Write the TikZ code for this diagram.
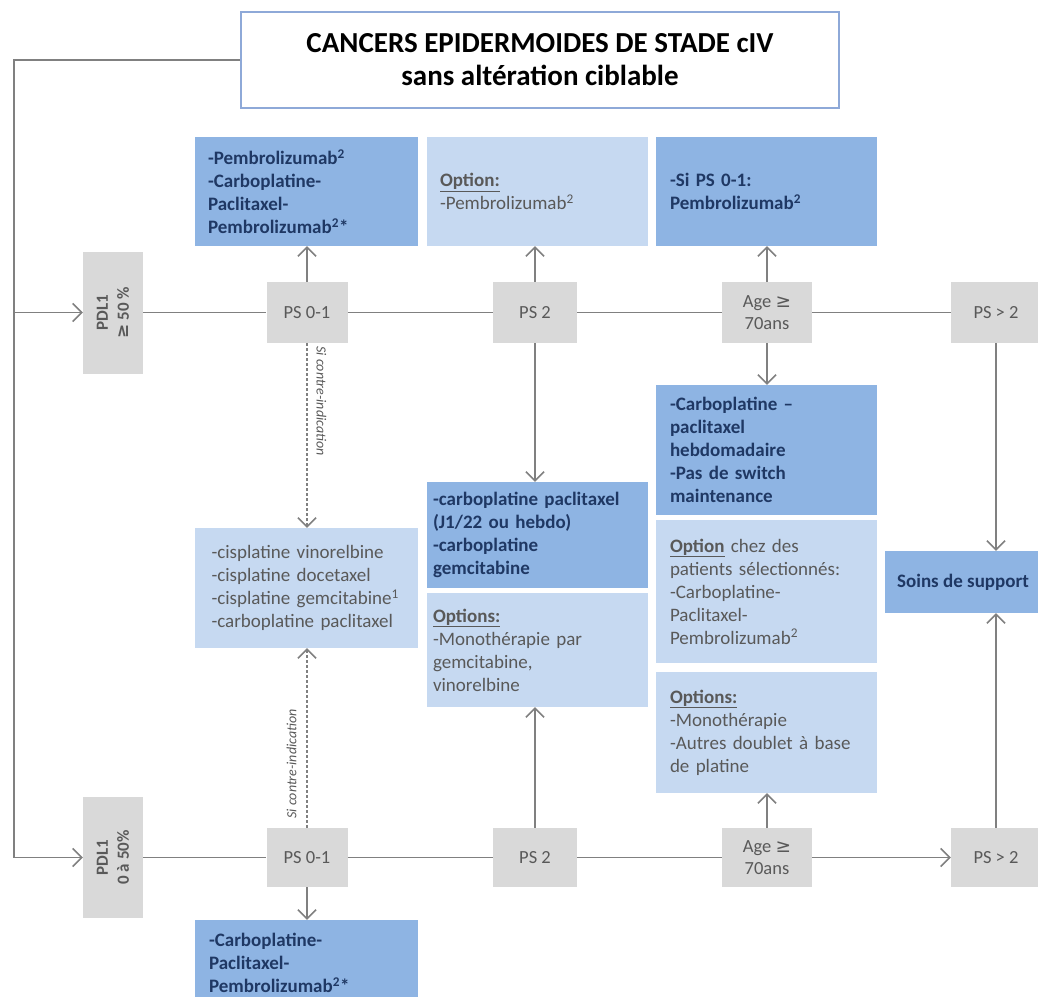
\documentclass[tikz,border=0pt]{standalone}
\usepackage{fontspec}
\setmainfont{Carlito}
\newfontfamily\symfont{DejaVu Sans}
\usetikzlibrary{arrows.meta}

\definecolor{boxdark}{HTML}{8EB4E3}
\definecolor{boxpale}{HTML}{C6D9F1}
\definecolor{boxgrey}{HTML}{D9D9D9}
\definecolor{wire}{HTML}{808080}
\definecolor{navytext}{HTML}{1F3864}
\definecolor{greytext}{HTML}{595959}
\definecolor{titleframe}{HTML}{8EA9D8}

\newcommand{\opthead}[1]{\textbf{\underline{#1}}}
\newcommand{\geqsign}{{\symfont\char"2265}}

\tikzset{
  dkbox/.style={inner sep=0pt, fill=boxdark, text=navytext, align=left,
    font=\bfseries\fontsize{19}{23}\selectfont},
  plbox/.style={inner sep=0pt, fill=boxpale, text=greytext, align=left,
    font=\fontsize{19}{23}\selectfont},
  gybox/.style={inner sep=0pt, fill=boxgrey, text=greytext, align=center,
    font=\fontsize{18.5}{22}\selectfont},
  rottext/.style={rotate=90, align=center, text=greytext,
    font=\bfseries\fontsize{17}{21}\selectfont},
  ln/.style={draw=wire, line width=1.6pt},
  arr/.style={-{Straight Barb[length=9pt,width=18pt,line width=1.6pt]}},
  dsh/.style={draw=wire, line width=1.4pt, dash pattern=on 3pt off 2pt},
  sidenote/.style={text=greytext, font=\itshape\fontsize{14}{16}\selectfont}
}

\begin{document}
\begin{tikzpicture}[x=1pt,y=-1pt]
\useasboundingbox (0,0) rectangle (1038,996);

% heading
\node[draw=titleframe, line width=2pt, fill=white, minimum width=598pt,
      minimum height=96pt, align=center,
      font=\bfseries\fontsize{29}{33}\selectfont] (title) at (540,60)
  {CANCERS EPIDERMOIDES DE STADE cIV\\sans altération ciblable};

% PD-L1 strata
\node[fill=boxgrey, minimum width=60pt, minimum height=122pt, inner sep=0pt] (pdlA) at (113,312.5) {};
\node[rottext] (pdlAtxt) at (pdlA) {PDL1\\\geqsign{} 50 \%};
\node[fill=boxgrey, minimum width=60pt, minimum height=121pt, inner sep=0pt] (pdlB) at (113,857.5) {};
\node[rottext] (pdlBtxt) at (pdlB) {PDL1\\0 à 50\%};

% performance status / age, upper row
\node[gybox, minimum width=81pt, minimum height=61pt] (psA1) at (307,312.5) {PS 0-1};
\node[gybox, minimum width=84pt, minimum height=61pt] (psA2) at (535,312.5) {PS 2};
\node[gybox, minimum width=90pt, minimum height=61pt] (ageA) at (767,312.5) {Age \geqsign\\70ans};
\node[gybox, minimum width=90pt, minimum height=61pt] (psA3) at (996,312.5) {PS > 2};

% performance status / age, lower row
\node[gybox, minimum width=81pt, minimum height=59pt] (psB1) at (307,857.5) {PS 0-1};
\node[gybox, minimum width=84pt, minimum height=59pt] (psB2) at (535,857.5) {PS 2};
\node[gybox, minimum width=90pt, minimum height=59pt] (ageB) at (767,857.5) {Age \geqsign\\70ans};
\node[gybox, minimum width=90pt, minimum height=59pt] (psB3) at (996,857.5) {PS > 2};

% treatments, top
\node[dkbox, minimum width=223pt, minimum height=109pt, text width=197pt] (topA) at (306.5,191.5)
  {-Pembrolizumab\textsuperscript{2}\\-Carboplatine-\\Paclitaxel-\\Pembrolizumab\textsuperscript{2}*};
\node[plbox, minimum width=221pt, minimum height=109pt, text width=195pt] (topB) at (537.5,191.5)
  {\opthead{Option:}\\-Pembrolizumab\textsuperscript{2}};
\node[dkbox, minimum width=221pt, minimum height=109pt, text width=193pt] (topC) at (766.5,191.5)
  {-Si PS 0-1:\\Pembrolizumab\textsuperscript{2}};

% treatments, elderly column
\node[dkbox, minimum width=221pt, minimum height=130pt, text width=193pt] (eldA) at (766.5,450)
  {-Carboplatine –\\paclitaxel\\hebdomadaire\\-Pas de switch\\maintenance};
\node[plbox, minimum width=221pt, minimum height=143pt, text width=193pt] (eldB) at (766.5,591.5)
  {\opthead{Option} chez des\\patients sélectionnés:\\-Carboplatine-\\Paclitaxel-\\Pembrolizumab\textsuperscript{2}};
\node[plbox, minimum width=221pt, minimum height=121pt, text width=193pt] (eldC) at (766.5,732.5)
  {\opthead{Options:}\\-Monothérapie\\-Autres doublet à base\\de platine};

% treatments, PS 2 column
\node[dkbox, minimum width=221pt, minimum height=106pt, text width=209pt] (midA) at (537.5,535)
  {-carboplatine paclitaxel\\(J1/22 ou hebdo)\\-carboplatine\\gemcitabine};
\node[plbox, minimum width=221pt, minimum height=114pt, text width=209pt] (midB) at (537.5,650)
  {\opthead{Options:}\\-Monothérapie par\\gemcitabine,\\vinorelbine};

% platinum doublets
\node[plbox, minimum width=223pt, minimum height=120pt, text width=190pt] (dbl) at (306.5,588)
  {-cisplatine vinorelbine\\-cisplatine docetaxel\\-cisplatine gemcitabine\textsuperscript{1}\\-carboplatine paclitaxel};

% treatment, bottom
\node[dkbox, minimum width=223pt, minimum height=86pt, text width=195pt] (botA) at (306.5,963)
  {-Carboplatine-\\Paclitaxel-\\Pembrolizumab\textsuperscript{2}*};

% supportive care
\node[dkbox, align=center, minimum width=156pt, minimum height=62pt] (care) at (963,582)
  {Soins de support};

% entry rail
\coordinate (railTop) at (14,60);
\coordinate (railMid) at (14,312.5);
\coordinate (railBot) at (14,857.5);
\draw[ln] (title.west) -- (railTop) -- (railBot);
\draw[ln,arr] (railMid) -- (pdlA.west);
\draw[ln,arr] (railBot) -- (pdlB.west);

% upper row
\draw[ln] (pdlA.east) -- (psA1.west);
\draw[ln] (psA1.east) -- (psA2.west);
\draw[ln] (psA2.east) -- (ageA.west);
\draw[ln] (ageA.east) -- (psA3.west);
\draw[ln,arr] (psA1.north) -- (psA1.north |- topA.south);
\draw[ln,arr] (psA2.north) -- (psA2.north |- topB.south);
\draw[ln,arr] (ageA.north) -- (ageA.north |- topC.south);
\draw[ln,arr] (ageA.south) -- (ageA.south |- eldA.north);
\draw[ln,arr] (psA2.south) -- (psA2.south |- midA.north);
\draw[ln,arr] (psA3.south) -- (psA3.south |- care.north);
\draw[dsh,arr] (psA1.south) -- (psA1.south |- dbl.north);
\node[sidenote, rotate=-90, anchor=south west] (ciA) at (313,343) {Si contre-indication};

% lower row
\draw[ln] (pdlB.east) -- (psB1.west);
\draw[ln] (psB1.east) -- (psB2.west);
\draw[ln] (psB2.east) -- (ageB.west);
\draw[ln,arr] (ageB.east) -- (psB3.west);
\draw[ln,arr] (psB1.south) -- (psB1.south |- botA.north);
\draw[ln,arr] (psB2.north) -- (psB2.north |- midB.south);
\draw[ln,arr] (ageB.north) -- (ageB.north |- eldC.south);
\draw[ln,arr] (psB3.north) -- (psB3.north |- care.south);
\draw[dsh,arr] (psB1.north) -- (psB1.north |- dbl.south);
\node[sidenote, rotate=90, anchor=south west] (ciB) at (300,822) {Si contre-indication};
\end{tikzpicture}
\end{document}
